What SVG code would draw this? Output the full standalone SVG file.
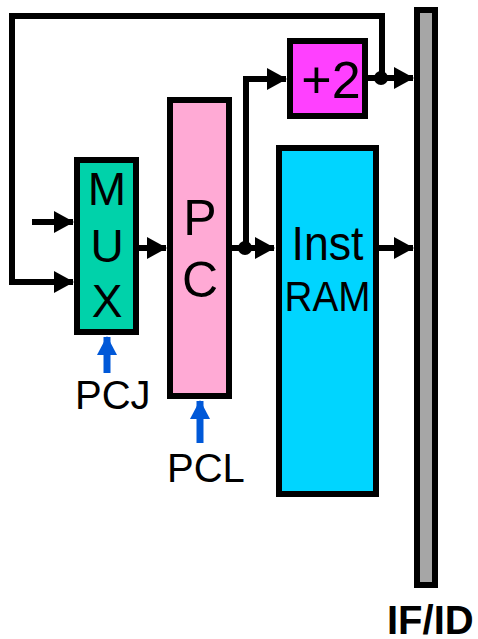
<svg xmlns="http://www.w3.org/2000/svg" width="478" height="639" viewBox="0 0 478 639">
  <style>
    .box { stroke: #000; stroke-width: 6; }
    .wire { fill: none; stroke: #000; stroke-width: 6; }
    .ctl { fill: none; stroke: #0058D8; stroke-width: 7; }
    .lbl { font-family: "Liberation Sans", Arial, sans-serif; fill: #000; text-anchor: middle; }
    .sig { font-family: "Liberation Sans", Arial, sans-serif; fill: #000; font-size: 40px; }
  </style>
  <defs>
    <marker id="arrow" viewBox="0 0 20 22" refX="19" refY="11" markerWidth="20" markerHeight="22" markerUnits="userSpaceOnUse" orient="auto">
      <polygon points="0,0 20,11 0,22" fill="#000"/>
    </marker>
    <marker id="barrow" viewBox="0 0 20 21" refX="19" refY="10.5" markerWidth="21" markerHeight="20" markerUnits="userSpaceOnUse" orient="auto">
      <polygon points="0,0 20,10.5 0,21" fill="#0058D8"/>
    </marker>
  </defs>
  <rect width="478" height="639" fill="#fff"/>

  <g id="connectors">
    <path class="wire" d="M382,78 V16 H12 V282 H73" marker-end="url(#arrow)"/>
    <path class="wire" d="M32,222 H73" marker-end="url(#arrow)"/>
    <path class="wire" d="M139,248 H166" marker-end="url(#arrow)"/>
    <path class="wire" d="M232,248 H274" marker-end="url(#arrow)"/>
    <path class="wire" d="M246,248 V79 H286" marker-end="url(#arrow)"/>
    <path class="wire" d="M368,78 H413" marker-end="url(#arrow)"/>
    <path class="wire" d="M379,248 H413" marker-end="url(#arrow)"/>
    <circle cx="245" cy="248" r="7" fill="#000"/>
    <circle cx="381" cy="78" r="7" fill="#000"/>
    <path class="ctl" d="M107,373 V337" marker-end="url(#barrow)"/>
    <path class="ctl" d="M200,443 V401" marker-end="url(#barrow)"/>
  </g>

  <g id="mux">
    <rect class="box" x="77" y="160" width="59" height="172" fill="#00D2AA"/>
    <text class="lbl" x="107" y="205" font-size="46">M</text>
    <text class="lbl" x="107" y="262" font-size="46">U</text>
    <text class="lbl" x="107" y="317" font-size="46">X</text>
  </g>

  <g id="pc">
    <rect class="box" x="170" y="100" width="59" height="296" fill="#FFAAD5"/>
    <text class="lbl" x="200" y="235" font-size="50">P</text>
    <text class="lbl" x="200" y="297" font-size="50">C</text>
  </g>

  <g id="plus2">
    <rect class="box" x="290" y="41" width="75" height="75" fill="#FF40FF"/>
    <text class="lbl" x="331" y="98" font-size="52">+2</text>
  </g>

  <g id="instram">
    <rect class="box" x="279" y="148" width="97" height="346" fill="#00D5FF"/>
    <text class="lbl" x="327.5" y="260" font-size="48" textLength="72" lengthAdjust="spacingAndGlyphs">Inst</text>
    <text class="lbl" x="327.5" y="311" font-size="42" textLength="86" lengthAdjust="spacingAndGlyphs">RAM</text>
  </g>

  <g id="ifid">
    <rect class="box" x="417" y="10" width="18" height="575" fill="#A6A6A6"/>
    <text x="387" y="634" font-family="Liberation Sans, Arial, sans-serif" font-weight="bold" font-size="40" fill="#000">IF/ID</text>
  </g>

  <g id="pcj">
    <text class="sig" x="75" y="409">PCJ</text>
  </g>
  <g id="pcl">
    <text class="sig" x="167" y="482">PCL</text>
  </g>
</svg>
